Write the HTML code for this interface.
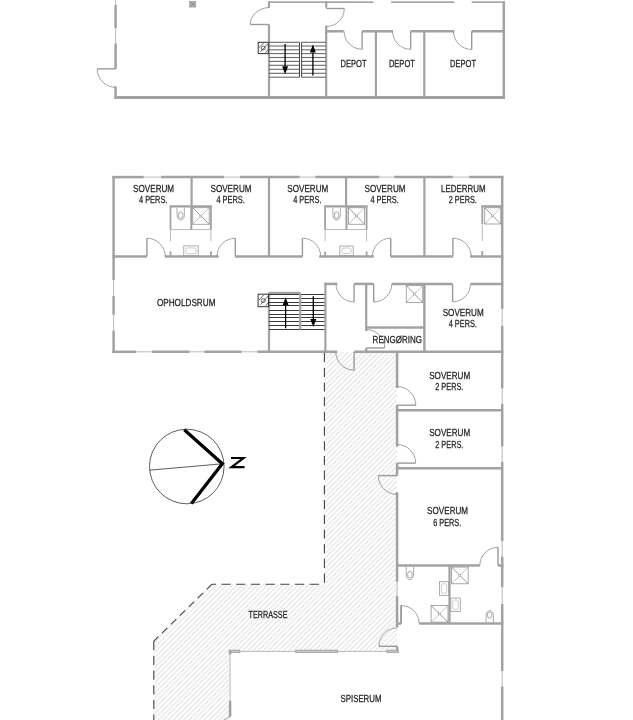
<!DOCTYPE html>
<html><head><meta charset="utf-8"><style>
html,body{margin:0;padding:0;background:#fff;}
svg{display:block;font-family:"Liberation Sans", sans-serif;will-change:transform;}
</style></head><body>
<svg width="633" height="720" viewBox="0 0 633 720">
<defs><pattern id="h" patternUnits="userSpaceOnUse" width="3.6" height="3.6" patternTransform="rotate(-45)"><line x1="0" y1="1.8" x2="3.6" y2="1.8" stroke="#c6c6c6" stroke-width="0.6"/></pattern></defs>
<polygon points="324.4,352 397.1,352 397.1,651.4 230.1,651.4 230.1,720 153.8,720 153.8,641.1 212,584.2 324.4,584.2" fill="url(#h)"/>
<line x1="324.4" y1="352" x2="324.4" y2="584.2" stroke="#444" stroke-width="1.1" stroke-dasharray="9.2 5.5" stroke-dashoffset="13.7"/>
<line x1="324.4" y1="584.2" x2="212" y2="584.2" stroke="#444" stroke-width="1.1" stroke-dasharray="9.2 5.5" stroke-dashoffset="9.2"/>
<line x1="212" y1="584.2" x2="153.8" y2="641.1" stroke="#444" stroke-width="1.1" stroke-dasharray="7.5 5"/>
<line x1="153.8" y1="641.1" x2="153.8" y2="720" stroke="#444" stroke-width="1.1" stroke-dasharray="9.2 5.5"/>
<line x1="115.6" y1="5" x2="115.6" y2="28" stroke="#a2a2a2" stroke-width="2.5" />
<line x1="115.6" y1="43.5" x2="115.6" y2="68.9" stroke="#a2a2a2" stroke-width="2.5" />
<line x1="115.6" y1="86.4" x2="115.6" y2="98.7" stroke="#a2a2a2" stroke-width="2.5" />
<line x1="115.6" y1="0" x2="115.6" y2="5" stroke="#a8a8a8" stroke-width="0.8" />
<line x1="115.6" y1="28" x2="115.6" y2="43.5" stroke="#a8a8a8" stroke-width="0.8" />
<line x1="115.6" y1="68.9" x2="97.2" y2="68.9" stroke="#9a9a9a" stroke-width="1.4"/>
<path d="M97.2,68.9 A18.40,18.40 0 0 0 115.6,87.3" fill="none" stroke="#8a8a8a" stroke-width="0.8"/>
<line x1="114.4" y1="97.4" x2="505" y2="97.4" stroke="#a2a2a2" stroke-width="3" />
<rect x="189.3" y="1.3" width="6.5" height="5.8" fill="#b5b5b5" stroke="#999" stroke-width="0.6"/>
<path d="M190.5,2.5 L194.6,6 M194.6,2.5 L190.5,6" stroke="#666" stroke-width="0.6"/>
<line x1="269" y1="1.3" x2="269" y2="7.9" stroke="#a2a2a2" stroke-width="2.2" />
<line x1="269" y1="24.5" x2="269" y2="97.4" stroke="#a2a2a2" stroke-width="2.2" />
<line x1="269" y1="24.5" x2="250.3" y2="24.5" stroke="#9a9a9a" stroke-width="1.4"/>
<path d="M250.3,24.5 A18.70,16.90 0 0 1 269,7.6" fill="none" stroke="#8a8a8a" stroke-width="0.8"/>
<line x1="268" y1="2.2" x2="373.5" y2="2.2" stroke="#a8a8a8" stroke-width="1.8" />
<line x1="391.1" y1="2.2" x2="454.3" y2="2.2" stroke="#a8a8a8" stroke-width="1.8" />
<line x1="471.7" y1="2.2" x2="505" y2="2.2" stroke="#a8a8a8" stroke-width="1.8" />
<line x1="326.2" y1="1.3" x2="326.2" y2="7.6" stroke="#a2a2a2" stroke-width="2.2" />
<line x1="326.2" y1="25.6" x2="326.2" y2="97.4" stroke="#a2a2a2" stroke-width="2.2" />
<line x1="326.2" y1="8.5" x2="344.3" y2="8.5" stroke="#9a9a9a" stroke-width="1.4"/>
<path d="M344.3,8.5 A18.10,18.10 0 0 1 326.2,26.6" fill="none" stroke="#8a8a8a" stroke-width="0.8"/>
<line x1="325" y1="31.3" x2="343.7" y2="31.3" stroke="#a2a2a2" stroke-width="2.5" />
<line x1="362.1" y1="31.3" x2="393" y2="31.3" stroke="#a2a2a2" stroke-width="2.5" />
<line x1="410.6" y1="31.3" x2="454.3" y2="31.3" stroke="#a2a2a2" stroke-width="2.5" />
<line x1="471.7" y1="31.3" x2="505" y2="31.3" stroke="#a2a2a2" stroke-width="2.5" />
<line x1="362.1" y1="31.3" x2="362.1" y2="49.3" stroke="#9a9a9a" stroke-width="1.4"/>
<path d="M362.1,49.3 A18.00,18.00 0 0 1 344.1,31.3" fill="none" stroke="#8a8a8a" stroke-width="0.8"/>
<line x1="410.6" y1="31.3" x2="410.6" y2="49.3" stroke="#9a9a9a" stroke-width="1.4"/>
<path d="M410.6,49.3 A18.00,18.00 0 0 1 392.6,31.3" fill="none" stroke="#8a8a8a" stroke-width="0.8"/>
<line x1="471.7" y1="31.3" x2="471.7" y2="49.5" stroke="#9a9a9a" stroke-width="1.4"/>
<path d="M471.7,49.5 A18.20,18.20 0 0 1 453.5,31.3" fill="none" stroke="#8a8a8a" stroke-width="0.8"/>
<line x1="375.9" y1="31.3" x2="375.9" y2="97.4" stroke="#a2a2a2" stroke-width="2.2" />
<line x1="424.3" y1="31.3" x2="424.3" y2="97.4" stroke="#a2a2a2" stroke-width="2.2" />
<line x1="503.8" y1="1.3" x2="503.8" y2="98.7" stroke="#a2a2a2" stroke-width="2.5" />
<text x="353.6" y="67.30" text-anchor="middle" textLength="26" lengthAdjust="spacingAndGlyphs" text-rendering="geometricPrecision" font-size="10.2" fill="#222" stroke="#222" stroke-width="0.25">DEPOT</text>
<text x="401.9" y="67.30" text-anchor="middle" textLength="26" lengthAdjust="spacingAndGlyphs" text-rendering="geometricPrecision" font-size="10.2" fill="#222" stroke="#222" stroke-width="0.25">DEPOT</text>
<text x="463" y="67.30" text-anchor="middle" textLength="26" lengthAdjust="spacingAndGlyphs" text-rendering="geometricPrecision" font-size="10.2" fill="#222" stroke="#222" stroke-width="0.25">DEPOT</text>
<line x1="269" y1="42.3" x2="299.5" y2="42.3" stroke="#6a6a6a" stroke-width="1.1" />
<line x1="301.6" y1="42.3" x2="326" y2="42.3" stroke="#6a6a6a" stroke-width="1.1" />
<line x1="269" y1="46.0" x2="299.5" y2="46.0" stroke="#6a6a6a" stroke-width="1.1" />
<line x1="301.6" y1="46.0" x2="326" y2="46.0" stroke="#6a6a6a" stroke-width="1.1" />
<line x1="269" y1="49.8" x2="299.5" y2="49.8" stroke="#6a6a6a" stroke-width="1.1" />
<line x1="301.6" y1="49.8" x2="326" y2="49.8" stroke="#6a6a6a" stroke-width="1.1" />
<line x1="269" y1="53.6" x2="299.5" y2="53.6" stroke="#6a6a6a" stroke-width="1.1" />
<line x1="301.6" y1="53.6" x2="326" y2="53.6" stroke="#6a6a6a" stroke-width="1.1" />
<line x1="269" y1="57.5" x2="299.5" y2="57.5" stroke="#6a6a6a" stroke-width="1.1" />
<line x1="301.6" y1="57.5" x2="326" y2="57.5" stroke="#6a6a6a" stroke-width="1.1" />
<line x1="269" y1="61.4" x2="299.5" y2="61.4" stroke="#6a6a6a" stroke-width="1.1" />
<line x1="301.6" y1="61.4" x2="326" y2="61.4" stroke="#6a6a6a" stroke-width="1.1" />
<line x1="269" y1="65.3" x2="299.5" y2="65.3" stroke="#6a6a6a" stroke-width="1.1" />
<line x1="301.6" y1="65.3" x2="326" y2="65.3" stroke="#6a6a6a" stroke-width="1.1" />
<line x1="269" y1="69.3" x2="299.5" y2="69.3" stroke="#6a6a6a" stroke-width="1.1" />
<line x1="301.6" y1="69.3" x2="326" y2="69.3" stroke="#6a6a6a" stroke-width="1.1" />
<line x1="269" y1="73.3" x2="299.5" y2="73.3" stroke="#6a6a6a" stroke-width="1.1" />
<line x1="301.6" y1="73.3" x2="326" y2="73.3" stroke="#6a6a6a" stroke-width="1.1" />
<line x1="269" y1="77.2" x2="299.5" y2="77.2" stroke="#6a6a6a" stroke-width="1.1" />
<line x1="301.6" y1="77.2" x2="326" y2="77.2" stroke="#6a6a6a" stroke-width="1.1" />
<line x1="299.5" y1="42.3" x2="299.5" y2="77.2" stroke="#444" stroke-width="1" />
<line x1="301.6" y1="42.3" x2="301.6" y2="77.2" stroke="#444" stroke-width="1" />
<line x1="285.1" y1="43.9" x2="285.1" y2="66.2" stroke="#000" stroke-width="1.3"/>
<path d="M282.1,66.2 L288.1,66.2 L285.1,74.2 Z" fill="#000"/>
<line x1="312.9" y1="75.5" x2="312.9" y2="52.5" stroke="#000" stroke-width="1.3"/>
<path d="M309.9,52.5 L315.9,52.5 L312.9,44.5 Z" fill="#000"/>
<rect x="258.2" y="42.3" width="10.100000000000023" height="11.300000000000004" fill="#fff" stroke="#333" stroke-width="1"/>
<path d="M258.81,47.84 L263.75,42.86 M260.42,51.79 L267.90,43.88 M265.67,52.70 L267.90,49.76" stroke="#444" stroke-width="0.8"/>
<circle cx="263.25" cy="48.06" r="2" fill="none" stroke="#444" stroke-width="0.8"/>
<line x1="113.6" y1="176" x2="113.6" y2="280" stroke="#a2a2a2" stroke-width="2.5" />
<line x1="113.6" y1="295.8" x2="113.6" y2="314.8" stroke="#a2a2a2" stroke-width="2.5" />
<line x1="113.6" y1="330.6" x2="113.6" y2="353" stroke="#a2a2a2" stroke-width="2.5" />
<line x1="113.6" y1="280" x2="113.6" y2="295.8" stroke="#a8a8a8" stroke-width="0.8" />
<line x1="113.6" y1="314.8" x2="113.6" y2="330.6" stroke="#a8a8a8" stroke-width="0.8" />
<line x1="112.4" y1="177.1" x2="143.7" y2="177.1" stroke="#a2a2a2" stroke-width="2.5" />
<line x1="161" y1="177.1" x2="224" y2="177.1" stroke="#a2a2a2" stroke-width="2.5" />
<line x1="239.8" y1="177.1" x2="299.7" y2="177.1" stroke="#a2a2a2" stroke-width="2.5" />
<line x1="315.3" y1="177.1" x2="379.3" y2="177.1" stroke="#a2a2a2" stroke-width="2.5" />
<line x1="394.2" y1="177.1" x2="452.9" y2="177.1" stroke="#a2a2a2" stroke-width="2.5" />
<line x1="469.1" y1="177.1" x2="503.4" y2="177.1" stroke="#a2a2a2" stroke-width="2.5" />
<line x1="143.7" y1="177.1" x2="161" y2="177.1" stroke="#a8a8a8" stroke-width="0.8" />
<line x1="224" y1="177.1" x2="239.8" y2="177.1" stroke="#a8a8a8" stroke-width="0.8" />
<line x1="299.7" y1="177.1" x2="315.3" y2="177.1" stroke="#a8a8a8" stroke-width="0.8" />
<line x1="379.3" y1="177.1" x2="394.2" y2="177.1" stroke="#a8a8a8" stroke-width="0.8" />
<line x1="452.9" y1="177.1" x2="469.1" y2="177.1" stroke="#a8a8a8" stroke-width="0.8" />
<line x1="502.2" y1="176" x2="502.2" y2="309" stroke="#a2a2a2" stroke-width="2.5" />
<line x1="502.2" y1="325.8" x2="502.2" y2="388.5" stroke="#a2a2a2" stroke-width="2.5" />
<line x1="502.2" y1="403.7" x2="502.2" y2="446.5" stroke="#a2a2a2" stroke-width="2.5" />
<line x1="502.2" y1="461.8" x2="502.2" y2="541.2" stroke="#a2a2a2" stroke-width="2.5" />
<line x1="502.2" y1="556.5" x2="502.2" y2="587.1" stroke="#a2a2a2" stroke-width="2.5" />
<line x1="502.2" y1="603.9" x2="502.2" y2="671.1" stroke="#a2a2a2" stroke-width="2.5" />
<line x1="502.2" y1="686.4" x2="502.2" y2="720" stroke="#a2a2a2" stroke-width="2.5" />
<line x1="502.2" y1="309" x2="502.2" y2="325.8" stroke="#a8a8a8" stroke-width="0.8" />
<line x1="502.2" y1="388.5" x2="502.2" y2="403.7" stroke="#a8a8a8" stroke-width="0.8" />
<line x1="502.2" y1="446.5" x2="502.2" y2="461.8" stroke="#a8a8a8" stroke-width="0.8" />
<line x1="502.2" y1="541.2" x2="502.2" y2="556.5" stroke="#a8a8a8" stroke-width="0.8" />
<line x1="502.2" y1="587.1" x2="502.2" y2="603.9" stroke="#a8a8a8" stroke-width="0.8" />
<line x1="502.2" y1="671.1" x2="502.2" y2="686.4" stroke="#a8a8a8" stroke-width="0.8" />
<line x1="191.6" y1="177" x2="191.6" y2="206.3" stroke="#a2a2a2" stroke-width="2.2" />
<line x1="269" y1="177" x2="269" y2="256.5" stroke="#a2a2a2" stroke-width="2.2" />
<line x1="346.1" y1="177" x2="346.1" y2="206.3" stroke="#a2a2a2" stroke-width="2.2" />
<line x1="424.4" y1="177" x2="424.4" y2="256.5" stroke="#a2a2a2" stroke-width="2.2" />
<line x1="169.5" y1="206.3" x2="211.9" y2="206.3" stroke="#a2a2a2" stroke-width="2.2" />
<line x1="170.5" y1="206.3" x2="170.5" y2="229.7" stroke="#a2a2a2" stroke-width="1.8" />
<line x1="170.5" y1="251.4" x2="170.5" y2="256.5" stroke="#a2a2a2" stroke-width="1.8" />
<line x1="210.9" y1="206.3" x2="210.9" y2="229.7" stroke="#a2a2a2" stroke-width="1.8" />
<line x1="210.9" y1="251.4" x2="210.9" y2="256.5" stroke="#a2a2a2" stroke-width="1.8" />
<line x1="170.5" y1="229.7" x2="170.5" y2="241.5" stroke="#a8a8a8" stroke-width="0.8" />
<line x1="210.9" y1="229.7" x2="210.9" y2="241.5" stroke="#a8a8a8" stroke-width="0.8" />
<line x1="170.5" y1="229.5" x2="210.9" y2="229.5" stroke="#aaa" stroke-width="0.8" />
<line x1="191.29999999999998" y1="206.3" x2="191.29999999999998" y2="229.7" stroke="#a2a2a2" stroke-width="2" />
<path d="M177.00,207.5 L177.00,215.38 A3.70,4.62 0 0 0 184.40,215.38 L184.40,207.5" fill="none" stroke="#9a9a9a" stroke-width="0.8"/>
<ellipse cx="180.7" cy="215.25" rx="2.30" ry="3.38" fill="none" stroke="#8a8a8a" stroke-width="0.75"/>
<rect x="192.7" y="207.7" width="16.50" height="16.60" fill="none" stroke="#9e9e9e" stroke-width="0.9"/>
<path d="M192.7,207.7 L209.2,224.3" stroke="#666" stroke-width="0.65"/>
<path d="M209.2,207.7 L192.7,224.3" stroke="#999" stroke-width="0.6"/>
<rect x="199.95" y="215.00" width="2" height="2" fill="#fff" stroke="#888" stroke-width="0.5"/>
<rect x="183.8" y="245.9" width="14.399999999999977" height="9.900000000000006" fill="none" stroke="#999" stroke-width="0.8"/>
<rect x="185.8" y="247.9" width="10.399999999999977" height="5.900000000000006" rx="2" fill="none" stroke="#aaa" stroke-width="0.6"/>
<line x1="324.1" y1="206.3" x2="367.6" y2="206.3" stroke="#a2a2a2" stroke-width="2.2" />
<line x1="325.1" y1="206.3" x2="325.1" y2="229.7" stroke="#a2a2a2" stroke-width="1.8" />
<line x1="325.1" y1="251.4" x2="325.1" y2="256.5" stroke="#a2a2a2" stroke-width="1.8" />
<line x1="366.6" y1="206.3" x2="366.6" y2="229.7" stroke="#a2a2a2" stroke-width="1.8" />
<line x1="366.6" y1="251.4" x2="366.6" y2="256.5" stroke="#a2a2a2" stroke-width="1.8" />
<line x1="325.1" y1="229.7" x2="325.1" y2="241.5" stroke="#a8a8a8" stroke-width="0.8" />
<line x1="366.6" y1="229.7" x2="366.6" y2="241.5" stroke="#a8a8a8" stroke-width="0.8" />
<line x1="325.1" y1="229.5" x2="366.6" y2="229.5" stroke="#aaa" stroke-width="0.8" />
<line x1="346.45000000000005" y1="206.3" x2="346.45000000000005" y2="229.7" stroke="#a2a2a2" stroke-width="2" />
<path d="M332.90,207.5 L332.90,215.38 A3.70,4.62 0 0 0 340.30,215.38 L340.30,207.5" fill="none" stroke="#9a9a9a" stroke-width="0.8"/>
<ellipse cx="336.6" cy="215.25" rx="2.30" ry="3.38" fill="none" stroke="#8a8a8a" stroke-width="0.75"/>
<rect x="348.5" y="207.7" width="16.10" height="16.60" fill="none" stroke="#9e9e9e" stroke-width="0.9"/>
<path d="M348.5,207.7 L364.6,224.3" stroke="#666" stroke-width="0.65"/>
<path d="M364.6,207.7 L348.5,224.3" stroke="#999" stroke-width="0.6"/>
<rect x="355.55" y="215.00" width="2" height="2" fill="#fff" stroke="#888" stroke-width="0.5"/>
<rect x="339.8" y="246" width="13.399999999999977" height="9.5" fill="none" stroke="#999" stroke-width="0.8"/>
<rect x="341.8" y="248" width="9.399999999999977" height="5.5" rx="2" fill="none" stroke="#aaa" stroke-width="0.6"/>
<line x1="112.4" y1="256.5" x2="146.9" y2="256.5" stroke="#a2a2a2" stroke-width="2.5" />
<line x1="165" y1="256.5" x2="218.5" y2="256.5" stroke="#a2a2a2" stroke-width="2.5" />
<line x1="235.3" y1="256.5" x2="302.4" y2="256.5" stroke="#a2a2a2" stroke-width="2.5" />
<line x1="319.2" y1="256.5" x2="373.7" y2="256.5" stroke="#a2a2a2" stroke-width="2.5" />
<line x1="390.7" y1="256.5" x2="452.9" y2="256.5" stroke="#a2a2a2" stroke-width="2.5" />
<line x1="470.2" y1="256.5" x2="503.4" y2="256.5" stroke="#a2a2a2" stroke-width="2.5" />
<line x1="146.9" y1="256.5" x2="146.9" y2="238.2" stroke="#9a9a9a" stroke-width="1.4"/>
<path d="M146.9,238.2 A18.30,18.30 0 0 1 165.2,256.5" fill="none" stroke="#8a8a8a" stroke-width="0.8"/>
<line x1="235.3" y1="256.5" x2="235.3" y2="238.2" stroke="#9a9a9a" stroke-width="1.4"/>
<path d="M235.3,238.2 A18.30,18.30 0 0 0 217.0,256.5" fill="none" stroke="#8a8a8a" stroke-width="0.8"/>
<line x1="302.4" y1="256.5" x2="302.4" y2="238.2" stroke="#9a9a9a" stroke-width="1.4"/>
<path d="M302.4,238.2 A18.30,18.30 0 0 1 320.7,256.5" fill="none" stroke="#8a8a8a" stroke-width="0.8"/>
<line x1="390.7" y1="256.5" x2="390.7" y2="238.2" stroke="#9a9a9a" stroke-width="1.4"/>
<path d="M390.7,238.2 A18.30,18.30 0 0 0 372.4,256.5" fill="none" stroke="#8a8a8a" stroke-width="0.8"/>
<line x1="452.9" y1="256.5" x2="452.9" y2="238.2" stroke="#9a9a9a" stroke-width="1.4"/>
<path d="M452.9,238.2 A18.30,18.30 0 0 1 471.2,256.5" fill="none" stroke="#8a8a8a" stroke-width="0.8"/>
<line x1="481.3" y1="206.3" x2="502.2" y2="206.3" stroke="#a2a2a2" stroke-width="2.2" />
<line x1="482.3" y1="206.3" x2="482.3" y2="224" stroke="#a2a2a2" stroke-width="1.8" />
<line x1="482.3" y1="251" x2="482.3" y2="256.5" stroke="#a2a2a2" stroke-width="1.8" />
<line x1="482.3" y1="224" x2="482.3" y2="241" stroke="#a8a8a8" stroke-width="0.8" />
<rect x="484.7" y="207.7" width="16.00" height="16.30" fill="none" stroke="#9e9e9e" stroke-width="0.9"/>
<path d="M484.7,207.7 L500.7,224" stroke="#666" stroke-width="0.65"/>
<path d="M500.7,207.7 L484.7,224" stroke="#999" stroke-width="0.6"/>
<rect x="491.70" y="214.85" width="2" height="2" fill="#fff" stroke="#888" stroke-width="0.5"/>
<text x="153.6" y="191.50" text-anchor="middle" textLength="41" lengthAdjust="spacingAndGlyphs" text-rendering="geometricPrecision" font-size="10.2" fill="#222" stroke="#222" stroke-width="0.25">SOVERUM</text>
<text x="153.2" y="203.00" text-anchor="middle" textLength="28.4" lengthAdjust="spacingAndGlyphs" text-rendering="geometricPrecision" font-size="10.2" fill="#222" stroke="#222" stroke-width="0.25">4 PERS.</text>
<text x="231.0" y="191.50" text-anchor="middle" textLength="41" lengthAdjust="spacingAndGlyphs" text-rendering="geometricPrecision" font-size="10.2" fill="#222" stroke="#222" stroke-width="0.25">SOVERUM</text>
<text x="230.6" y="203.00" text-anchor="middle" textLength="28.4" lengthAdjust="spacingAndGlyphs" text-rendering="geometricPrecision" font-size="10.2" fill="#222" stroke="#222" stroke-width="0.25">4 PERS.</text>
<text x="307.8" y="191.50" text-anchor="middle" textLength="41" lengthAdjust="spacingAndGlyphs" text-rendering="geometricPrecision" font-size="10.2" fill="#222" stroke="#222" stroke-width="0.25">SOVERUM</text>
<text x="307.4" y="203.00" text-anchor="middle" textLength="28.4" lengthAdjust="spacingAndGlyphs" text-rendering="geometricPrecision" font-size="10.2" fill="#222" stroke="#222" stroke-width="0.25">4 PERS.</text>
<text x="385.0" y="191.50" text-anchor="middle" textLength="41" lengthAdjust="spacingAndGlyphs" text-rendering="geometricPrecision" font-size="10.2" fill="#222" stroke="#222" stroke-width="0.25">SOVERUM</text>
<text x="384.6" y="203.00" text-anchor="middle" textLength="28.4" lengthAdjust="spacingAndGlyphs" text-rendering="geometricPrecision" font-size="10.2" fill="#222" stroke="#222" stroke-width="0.25">4 PERS.</text>
<text x="463.3" y="191.60" text-anchor="middle" textLength="44.4" lengthAdjust="spacingAndGlyphs" text-rendering="geometricPrecision" font-size="10.2" fill="#222" stroke="#222" stroke-width="0.25">LEDERRUM</text>
<text x="462.8" y="203.00" text-anchor="middle" textLength="28.1" lengthAdjust="spacingAndGlyphs" text-rendering="geometricPrecision" font-size="10.2" fill="#222" stroke="#222" stroke-width="0.25">2 PERS.</text>
<text x="186.2" y="306.10" text-anchor="middle" textLength="58.6" lengthAdjust="spacingAndGlyphs" text-rendering="geometricPrecision" font-size="10.2" fill="#222" stroke="#222" stroke-width="0.25">OPHOLDSRUM</text>
<line x1="112.4" y1="351.8" x2="136.3" y2="351.8" stroke="#a2a2a2" stroke-width="2.5" />
<line x1="152.1" y1="351.8" x2="189.5" y2="351.8" stroke="#a2a2a2" stroke-width="2.5" />
<line x1="204.5" y1="351.8" x2="241.6" y2="351.8" stroke="#a2a2a2" stroke-width="2.5" />
<line x1="257.4" y1="351.8" x2="337.3" y2="351.8" stroke="#a2a2a2" stroke-width="2.5" />
<line x1="354.1" y1="351.8" x2="503.4" y2="351.8" stroke="#a2a2a2" stroke-width="2.5" />
<line x1="136.3" y1="351.8" x2="152.1" y2="351.8" stroke="#a8a8a8" stroke-width="0.8" />
<line x1="189.5" y1="351.8" x2="204.5" y2="351.8" stroke="#a8a8a8" stroke-width="0.8" />
<line x1="241.6" y1="351.8" x2="257.4" y2="351.8" stroke="#a8a8a8" stroke-width="0.8" />
<line x1="354.1" y1="351.9" x2="354.1" y2="370.2" stroke="#9a9a9a" stroke-width="1.4"/>
<path d="M354.1,370.2 A18.30,18.30 0 0 1 335.8,351.9" fill="none" stroke="#8a8a8a" stroke-width="0.8"/>
<line x1="269" y1="292.7" x2="269" y2="351.8" stroke="#a2a2a2" stroke-width="2.2" />
<line x1="269" y1="293.0" x2="300.5" y2="293.0" stroke="#a2a2a2" stroke-width="2.4" />
<line x1="269" y1="294.5" x2="325.4" y2="294.5" stroke="#3a3a3a" stroke-width="1" />
<line x1="269" y1="298.5" x2="325.4" y2="298.5" stroke="#3a3a3a" stroke-width="1" />
<line x1="269" y1="302.5" x2="325.4" y2="302.5" stroke="#3a3a3a" stroke-width="1" />
<line x1="269" y1="305.5" x2="325.4" y2="305.5" stroke="#3a3a3a" stroke-width="1" />
<line x1="269" y1="310.5" x2="325.4" y2="310.5" stroke="#3a3a3a" stroke-width="1" />
<line x1="269" y1="314.5" x2="325.4" y2="314.5" stroke="#3a3a3a" stroke-width="1" />
<line x1="269" y1="317.5" x2="325.4" y2="317.5" stroke="#3a3a3a" stroke-width="1" />
<line x1="269" y1="321.5" x2="325.4" y2="321.5" stroke="#3a3a3a" stroke-width="1" />
<line x1="269" y1="325.5" x2="325.4" y2="325.5" stroke="#3a3a3a" stroke-width="1" />
<line x1="269" y1="329.5" x2="325.4" y2="329.5" stroke="#3a3a3a" stroke-width="1" />
<line x1="300.2" y1="293.0" x2="300.2" y2="329.5" stroke="#a5a5a5" stroke-width="2.2" />
<line x1="285.6" y1="328.3" x2="285.6" y2="305.2" stroke="#000" stroke-width="1.3"/>
<path d="M282.6,305.2 L288.6,305.2 L285.6,297.2 Z" fill="#000"/>
<line x1="313.3" y1="296.3" x2="313.3" y2="318.9" stroke="#000" stroke-width="1.3"/>
<path d="M310.3,318.9 L316.3,318.9 L313.3,326.9 Z" fill="#000"/>
<rect x="258.1" y="294.2" width="10.399999999999977" height="12.5" fill="#fff" stroke="#333" stroke-width="1"/>
<path d="M258.72,300.32 L263.82,294.82 M260.39,304.70 L268.08,295.95 M265.80,305.70 L268.08,302.45" stroke="#444" stroke-width="0.8"/>
<circle cx="263.30" cy="300.57" r="2" fill="none" stroke="#444" stroke-width="0.8"/>
<line x1="325.4" y1="282.6" x2="325.4" y2="351.8" stroke="#a2a2a2" stroke-width="2.2" />
<line x1="324.3" y1="283.9" x2="337.3" y2="283.9" stroke="#a2a2a2" stroke-width="2.5" />
<line x1="354.1" y1="283.9" x2="373.7" y2="283.9" stroke="#a2a2a2" stroke-width="2.5" />
<line x1="391.8" y1="283.9" x2="452.6" y2="283.9" stroke="#a2a2a2" stroke-width="2.5" />
<line x1="470.5" y1="283.9" x2="503.4" y2="283.9" stroke="#a2a2a2" stroke-width="2.5" />
<line x1="354.1" y1="283.9" x2="354.1" y2="302" stroke="#9a9a9a" stroke-width="1.4"/>
<path d="M354.1,302 A18.10,18.10 0 0 1 336.0,283.9" fill="none" stroke="#8a8a8a" stroke-width="0.8"/>
<line x1="373.7" y1="283.9" x2="373.7" y2="302" stroke="#9a9a9a" stroke-width="1.4"/>
<path d="M373.7,302 A18.10,18.10 0 0 0 391.8,283.9" fill="none" stroke="#8a8a8a" stroke-width="0.8"/>
<line x1="452.6" y1="283.9" x2="452.6" y2="301.9" stroke="#9a9a9a" stroke-width="1.4"/>
<path d="M452.6,301.9 A17.90,18.00 0 0 0 470.5,283.9" fill="none" stroke="#8a8a8a" stroke-width="0.8"/>
<line x1="366.2" y1="283.9" x2="366.2" y2="331" stroke="#a2a2a2" stroke-width="2.2" />
<line x1="366.2" y1="348" x2="366.2" y2="351.8" stroke="#a2a2a2" stroke-width="2.2" />
<line x1="366.2" y1="348" x2="384.7" y2="348" stroke="#9a9a9a" stroke-width="1.4"/>
<path d="M384.7,348 A18.50,18.50 0 0 0 366.2,329.5" fill="none" stroke="#8a8a8a" stroke-width="0.8"/>
<line x1="366.2" y1="327.6" x2="424.4" y2="327.6" stroke="#a2a2a2" stroke-width="2.5" />
<line x1="424.4" y1="283.9" x2="424.4" y2="351.8" stroke="#a2a2a2" stroke-width="2.5" />
<rect x="406.3" y="285.6" width="16.40" height="16.80" fill="none" stroke="#9e9e9e" stroke-width="0.9"/>
<path d="M406.3,285.6 L422.7,302.4" stroke="#666" stroke-width="0.65"/>
<path d="M422.7,285.6 L406.3,302.4" stroke="#999" stroke-width="0.6"/>
<rect x="413.50" y="293.00" width="2" height="2" fill="#fff" stroke="#888" stroke-width="0.5"/>
<text x="397.3" y="343.40" text-anchor="middle" textLength="49.4" lengthAdjust="spacingAndGlyphs" text-rendering="geometricPrecision" font-size="10.2" fill="#222" stroke="#222" stroke-width="0.25">RENGØRING</text>
<text x="463.2" y="316.30" text-anchor="middle" textLength="41" lengthAdjust="spacingAndGlyphs" text-rendering="geometricPrecision" font-size="10.2" fill="#222" stroke="#222" stroke-width="0.25">SOVERUM</text>
<text x="462.8" y="327.40" text-anchor="middle" textLength="28.1" lengthAdjust="spacingAndGlyphs" text-rendering="geometricPrecision" font-size="10.2" fill="#222" stroke="#222" stroke-width="0.25">4 PERS.</text>
<line x1="397.1" y1="351.8" x2="397.1" y2="388.1" stroke="#a2a2a2" stroke-width="2.5" />
<line x1="397.1" y1="405.2" x2="397.1" y2="446.7" stroke="#a2a2a2" stroke-width="2.5" />
<line x1="397.1" y1="463.1" x2="397.1" y2="475.6" stroke="#a2a2a2" stroke-width="2.5" />
<line x1="397.1" y1="492.2" x2="397.1" y2="581.8" stroke="#a2a2a2" stroke-width="2.5" />
<line x1="397.1" y1="596" x2="397.1" y2="627.3" stroke="#a2a2a2" stroke-width="2.5" />
<line x1="397.1" y1="646.3" x2="397.1" y2="652.5" stroke="#a2a2a2" stroke-width="2.5" />
<line x1="397.1" y1="581.8" x2="397.1" y2="596" stroke="#a8a8a8" stroke-width="0.8" />
<line x1="397.1" y1="410.3" x2="502.2" y2="410.3" stroke="#a2a2a2" stroke-width="2.5" />
<line x1="397.1" y1="468.2" x2="502.2" y2="468.2" stroke="#a2a2a2" stroke-width="2.5" />
<line x1="397.1" y1="405.2" x2="415.8" y2="405.2" stroke="#9a9a9a" stroke-width="1.4"/>
<path d="M415.8,405.2 A18.70,18.70 0 0 0 397.1,386.5" fill="none" stroke="#8a8a8a" stroke-width="0.8"/>
<line x1="397.1" y1="463.1" x2="415.7" y2="463.1" stroke="#9a9a9a" stroke-width="1.4"/>
<path d="M415.7,463.1 A18.60,18.60 0 0 0 397.1,444.5" fill="none" stroke="#8a8a8a" stroke-width="0.8"/>
<line x1="397.1" y1="475.6" x2="378.3" y2="475.6" stroke="#9a9a9a" stroke-width="1.4"/>
<path d="M378.3,475.6 A18.80,18.80 0 0 0 397.1,494.4" fill="none" stroke="#8a8a8a" stroke-width="0.8"/>
<text x="449.7" y="378.50" text-anchor="middle" textLength="41" lengthAdjust="spacingAndGlyphs" text-rendering="geometricPrecision" font-size="10.2" fill="#222" stroke="#222" stroke-width="0.25">SOVERUM</text>
<text x="449.3" y="390.40" text-anchor="middle" textLength="28.1" lengthAdjust="spacingAndGlyphs" text-rendering="geometricPrecision" font-size="10.2" fill="#222" stroke="#222" stroke-width="0.25">2 PERS.</text>
<text x="449.7" y="436.40" text-anchor="middle" textLength="41" lengthAdjust="spacingAndGlyphs" text-rendering="geometricPrecision" font-size="10.2" fill="#222" stroke="#222" stroke-width="0.25">SOVERUM</text>
<text x="449.3" y="448.30" text-anchor="middle" textLength="28.1" lengthAdjust="spacingAndGlyphs" text-rendering="geometricPrecision" font-size="10.2" fill="#222" stroke="#222" stroke-width="0.25">2 PERS.</text>
<text x="447.6" y="514.40" text-anchor="middle" textLength="41" lengthAdjust="spacingAndGlyphs" text-rendering="geometricPrecision" font-size="10.2" fill="#222" stroke="#222" stroke-width="0.25">SOVERUM</text>
<text x="447.2" y="525.90" text-anchor="middle" textLength="28.1" lengthAdjust="spacingAndGlyphs" text-rendering="geometricPrecision" font-size="10.2" fill="#222" stroke="#222" stroke-width="0.25">6 PERS.</text>
<line x1="397.1" y1="565.5" x2="479.8" y2="565.5" stroke="#a2a2a2" stroke-width="2.5" />
<line x1="498" y1="565.5" x2="503.4" y2="565.5" stroke="#a2a2a2" stroke-width="2.5" />
<line x1="498" y1="565.5" x2="498" y2="547.3" stroke="#9a9a9a" stroke-width="1.4"/>
<path d="M498,547.3 A18.20,18.20 0 0 0 479.8,565.5" fill="none" stroke="#8a8a8a" stroke-width="0.8"/>
<line x1="449.5" y1="565.5" x2="449.5" y2="623.6" stroke="#a2a2a2" stroke-width="2.2" />
<path d="M406.20,566.7 L406.20,574.98 A3.70,4.62 0 0 0 413.60,574.98 L413.60,566.7" fill="none" stroke="#9a9a9a" stroke-width="0.8"/>
<ellipse cx="409.9" cy="574.70" rx="2.30" ry="3.48" fill="none" stroke="#8a8a8a" stroke-width="0.75"/>
<rect x="451.5" y="567.1" width="16.70" height="16.65" fill="none" stroke="#9e9e9e" stroke-width="0.9"/>
<path d="M451.5,567.1 L468.2,583.75" stroke="#666" stroke-width="0.65"/>
<path d="M468.2,567.1 L451.5,583.75" stroke="#999" stroke-width="0.6"/>
<rect x="458.85" y="574.42" width="2" height="2" fill="#fff" stroke="#888" stroke-width="0.5"/>
<rect x="439.4" y="581.7" width="9.350000000000023" height="13.599999999999909" fill="none" stroke="#999" stroke-width="0.8"/>
<rect x="441.4" y="583.7" width="5.350000000000023" height="9.599999999999909" rx="2" fill="none" stroke="#aaa" stroke-width="0.6"/>
<rect x="450.8" y="598" width="9.5" height="13.5" fill="none" stroke="#999" stroke-width="0.8"/>
<rect x="452.8" y="600" width="5.5" height="9.5" rx="2" fill="none" stroke="#aaa" stroke-width="0.6"/>
<rect x="431.1" y="605.6" width="16.90" height="16.60" fill="none" stroke="#9e9e9e" stroke-width="0.9"/>
<path d="M431.1,605.6 L448,622.2" stroke="#666" stroke-width="0.65"/>
<path d="M448,605.6 L431.1,622.2" stroke="#999" stroke-width="0.6"/>
<rect x="438.55" y="612.90" width="2" height="2" fill="#fff" stroke="#888" stroke-width="0.5"/>
<path d="M486.00,622.4 L486.00,615.23 A3.70,4.62 0 0 1 493.40,615.23 L493.40,622.4" fill="none" stroke="#9a9a9a" stroke-width="0.8"/>
<ellipse cx="489.7" cy="615.08" rx="2.30" ry="3.19" fill="none" stroke="#8a8a8a" stroke-width="0.75"/>
<line x1="397.1" y1="623.6" x2="401.1" y2="623.6" stroke="#a2a2a2" stroke-width="2.5" />
<line x1="419.2" y1="623.6" x2="503.4" y2="623.6" stroke="#a2a2a2" stroke-width="2.5" />
<line x1="401.1" y1="605.5" x2="401.1" y2="623.6" stroke="#9a9a9a" stroke-width="1.4" />
<line x1="401.1" y1="623.6" x2="401.1" y2="605.5" stroke="#9a9a9a" stroke-width="1.4"/>
<path d="M401.1,605.5 A18.10,18.10 0 0 1 419.2,623.6" fill="none" stroke="#8a8a8a" stroke-width="0.8"/>
<line x1="397.3" y1="646.3" x2="378.9" y2="646.3" stroke="#9a9a9a" stroke-width="1.4"/>
<path d="M378.9,646.3 A18.40,18.40 0 0 1 397.3,627.9" fill="none" stroke="#8a8a8a" stroke-width="0.8"/>
<line x1="239.9" y1="651.4" x2="295.8" y2="651.4" stroke="#a8a8a8" stroke-width="0.8" />
<line x1="337.6" y1="651.4" x2="386.9" y2="651.4" stroke="#a8a8a8" stroke-width="0.8" />
<rect x="229.2" y="650.1" width="10.70" height="2.6" fill="#c4c4c4" stroke="#9a9a9a" stroke-width="0.7"/>
<rect x="295.8" y="650.1" width="41.80" height="2.6" fill="#c4c4c4" stroke="#9a9a9a" stroke-width="0.7"/>
<rect x="386.9" y="650.1" width="11.40" height="2.6" fill="#c4c4c4" stroke="#9a9a9a" stroke-width="0.7"/>
<line x1="230.1" y1="650.2" x2="230.1" y2="654.6" stroke="#a2a2a2" stroke-width="2.5" />
<line x1="230.1" y1="654.6" x2="230.1" y2="701" stroke="#a8a8a8" stroke-width="0.8" />
<line x1="230.1" y1="701" x2="230.1" y2="716.8" stroke="#a2a2a2" stroke-width="2.5" />
<line x1="230.1" y1="716.8" x2="220" y2="722" stroke="#999" stroke-width="0.8" />
<text x="268" y="617.50" text-anchor="middle" textLength="39" lengthAdjust="spacingAndGlyphs" text-rendering="geometricPrecision" font-size="10.2" fill="#222" stroke="#222" stroke-width="0.25">TERRASSE</text>
<text x="361" y="702.10" text-anchor="middle" textLength="41" lengthAdjust="spacingAndGlyphs" text-rendering="geometricPrecision" font-size="10.2" fill="#222" stroke="#222" stroke-width="0.25">SPISERUM</text>
<circle cx="186.8" cy="466.5" r="37.3" fill="none" stroke="#333" stroke-width="0.8"/>
<line x1="149.5" y1="470.2" x2="222.3" y2="463.8" stroke="#333" stroke-width="0.8"/>
<polyline points="184.3,429.7 222.3,463.8 191.4,503.5" fill="none" stroke="#000" stroke-width="3.3" stroke-linejoin="miter"/>
<path d="M231,458 L243.5,458 L231.5,467.2 L244.5,467.2" fill="none" stroke="#000" stroke-width="2.2"/>
</svg>
</body></html>
